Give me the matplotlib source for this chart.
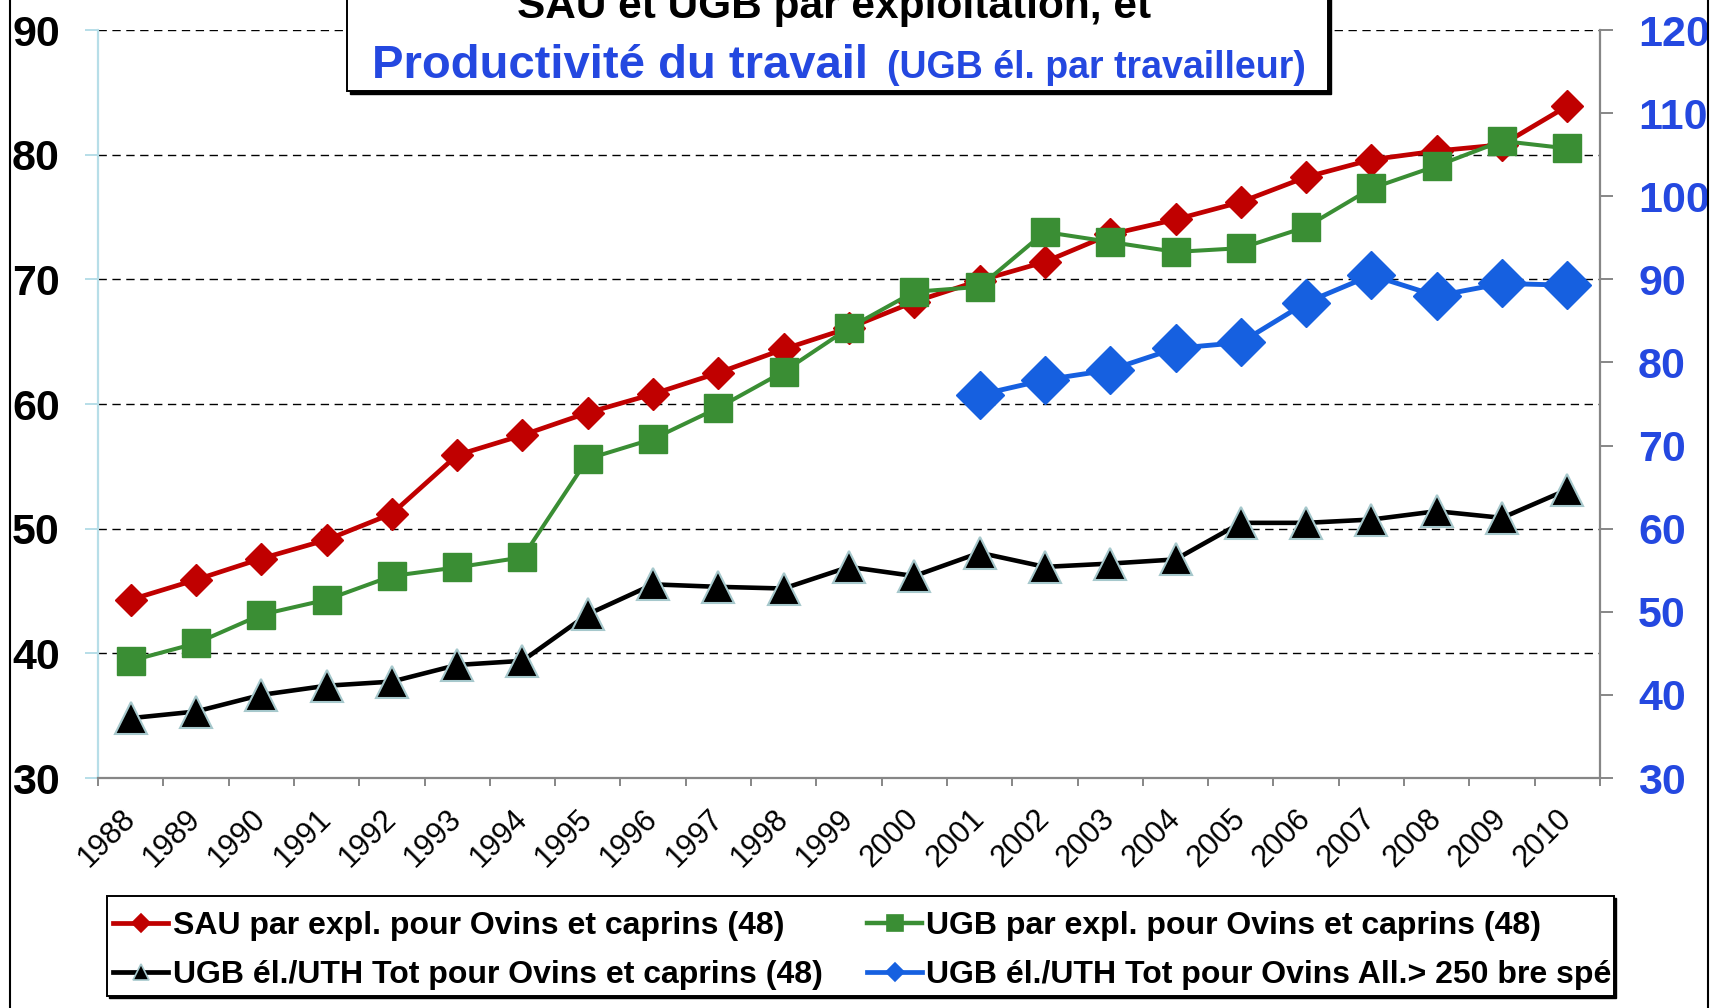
### sheep and goat farms chart
# sau, ugb and labour productivity, 1988-2010
#  this script redraws the excel chart with two y axes

# import plotting libraries
import matplotlib
matplotlib.use('Agg')
import matplotlib.pyplot as plt
import numpy as np
from matplotlib.lines import Line2D
from matplotlib.patches import Rectangle
from matplotlib.transforms import Bbox, TransformedBbox

# define chart values
years = [str(y) for y in range(1988, 2011)]
sau_expl = [44.3, 45.9, 47.6, 49.1, 51.2, 55.9, 57.5, 59.3, 60.8, 62.5, 64.4,
            66.1, 68.2, 69.9, 71.4, 73.6, 74.8, 76.2, 78.2, 79.6, 80.3, 80.8,
            83.9]
ugb_expl = [39.4, 40.8, 43.1, 44.3, 46.2, 46.9, 47.7, 55.6, 57.2, 59.7, 62.6,
            66.1, 69.0, 69.4, 73.8, 73.0, 72.2, 72.5, 74.2, 77.3, 79.1, 81.1,
            80.5]
ugb_uth = [37.2, 38.0, 40.0, 41.1, 41.6, 43.6, 44.1, 49.7, 53.3, 53.0, 52.8,
           55.4, 54.3, 57.1, 55.4, 55.8, 56.3, 60.7, 60.7, 61.1, 62.1, 61.3,
           64.7]
spec_years = years[13:]
ugb_uth_spec = [76.1, 77.9, 79.1, 81.7, 82.4, 87.2, 90.5, 88.0, 89.5, 89.3]

# legend labels
labels = [
    'SAU par expl. pour Ovins et caprins (48)',
    'UGB par expl. pour Ovins et caprins (48)',
    'UGB él./UTH Tot pour Ovins et caprins (48)',
    'UGB él./UTH Tot pour Ovins All.> 250 bre spécialisés (48)'
]

# colours
red, green, blue = '#C00000', '#3A8E34', '#1660E0'
tick_blue, grey, pale = '#2448E0', '#868686', '#B7DEE8'
tri_edge = '#A6C8CC'

plt.rcParams['font.family'] = ['Liberation Sans', 'DejaVu Sans']

# pixel helpers for figure coordinates
W, H = 1712, 1008
fx = lambda px: px / W
fy = lambda py: 1 - py / H

fig = plt.figure(figsize = (W / 100, H / 100), dpi = 100)
ax = fig.add_axes([fx(98), fy(778), fx(1600) - fx(98), fy(30) - fy(778)])
ax2 = ax.twinx()

x = np.arange(len(years))
xs = np.array([years.index(y) for y in spec_years])

### primary axis series
ax.plot(x, sau_expl, color = red, lw = 3.4, marker = 'D', ms = 16.3,
        mec = red, zorder = 3)
ax.plot(x, ugb_expl, color = green, lw = 2.9, marker = 's', ms = 20.5,
        mec = green, zorder = 4)

### secondary axis series
ax2.plot(x, ugb_uth, color = 'black', lw = 3.3, marker = '^', ms = 22.5,
         mfc = 'black', mec = tri_edge, mew = 1.5, zorder = 3)
ax2.plot(xs, ugb_uth_spec, color = blue, lw = 3.5, marker = 'D', ms = 24,
         mec = blue, zorder = 4)

# axis ranges
ax.set_xlim(-0.5, len(years) - 0.5)
ax.set_ylim(30, 90)
ax2.set_ylim(30, 120)
ax.set_yticks(range(30, 91, 10))
ax2.set_yticks(range(30, 121, 10))

# category ticks between years, labels on the years
ax.set_xticks(np.arange(-0.5, len(years)), labels = [''] * (len(years) + 1))
ax.set_xticks(x, labels = years, minor = True)
ax.tick_params(axis = 'x', which = 'major', length = 5.8, width = 1.4,
               color = grey, direction = 'out')
ax.tick_params(axis = 'x', which = 'minor', length = 0, pad = 26,
               labelsize = 22)
for lab in ax.get_xticklabels(minor = True):
    lab.set_rotation(45)
    lab.set_ha('right')
    lab.set_va('center')
    lab.set_rotation_mode('anchor')

# y tick styling
ax.tick_params(axis = 'y', length = 9.4, width = 1.4, color = pale,
               labelsize = 31, pad = 18)
for lab in ax.get_yticklabels():
    lab.set_fontweight('bold')
ax2.tick_params(axis = 'y', length = 9.4, width = 1.4, color = grey,
                labelsize = 31, pad = 18, labelcolor = tick_blue)
for lab in ax2.get_yticklabels():
    lab.set_fontweight('bold')

# gridlines on the primary axis
ax.yaxis.grid(True, color = 'black', lw = 1.0, ls = (0, (6, 4)))
ax.set_axisbelow(True)

# spines
for s in ['top', 'right']:
    ax.spines[s].set_visible(False)
for s in ['top', 'left', 'bottom']:
    ax2.spines[s].set_visible(False)
ax.spines['left'].set_color(pale)
ax.spines['left'].set_linewidth(1.6)
ax.spines['bottom'].set_color(grey)
ax.spines['bottom'].set_linewidth(1.6)
ax2.spines['right'].set_color(grey)
ax2.spines['right'].set_linewidth(1.6)

### outer chart border
fig.add_artist(Rectangle((fx(10), fy(1030)), fx(1708) - fx(10),
                         fy(-20) - fy(1030), transform = fig.transFigure,
                         fill = False, ec = 'black', lw = 1.5))

### title box
fig.add_artist(Rectangle((fx(350), fy(94)), fx(1331) - fx(350),
                         fy(-20) - fy(94), transform = fig.transFigure,
                         fc = 'black', ec = 'black', lw = 1, zorder = 5))
fig.add_artist(Rectangle((fx(347), fy(91)), fx(1328) - fx(347),
                         fy(-20) - fy(91), transform = fig.transFigure,
                         fc = 'white', ec = 'black', lw = 1.4, zorder = 6))
fig.text(fx(834), fy(18), 'SAU et UGB par exploitation, et', ha = 'center',
         va = 'baseline', fontsize = 30.5, fontweight = 'bold', zorder = 7)
fig.text(fx(372), fy(78), 'Productivité du travail', ha = 'left',
         va = 'baseline', fontsize = 34, fontweight = 'bold',
         color = tick_blue, zorder = 7)
fig.text(fx(887), fy(78), '(UGB él. par travailleur)', ha = 'left',
         va = 'baseline', fontsize = 27, fontweight = 'bold',
         color = tick_blue, zorder = 7)

### legend box
lx0, lx1, ly0, ly1 = 107, 1614, 896, 996
fig.add_artist(Rectangle((fx(lx0 + 2), fy(ly1 + 2)), fx(lx1) - fx(lx0),
                         fy(ly0) - fy(ly1), transform = fig.transFigure,
                         fc = 'black', ec = 'black', lw = 1, zorder = 5))
fig.add_artist(Rectangle((fx(lx0), fy(ly1)), fx(lx1) - fx(lx0),
                         fy(ly0) - fy(ly1), transform = fig.transFigure,
                         fc = 'white', ec = 'black', lw = 1.4, zorder = 6))
clip = TransformedBbox(Bbox.from_extents(fx(lx0), fy(ly1), fx(lx1 - 2),
                                         fy(ly0)), fig.transFigure)

# handles: colour, line width, marker, size, face, edge
handles = [
    (red, 3.4, 'D', 9.2, red, red),
    (green, 3.2, 's', 12, green, green),
    ('black', 3.4, '^', 12, 'black', tri_edge),
    (blue, 3.4, 'D', 9.2, blue, blue)
]
cols = [(113, 168, 173), (867, 922, 926)]
rows = [923, 972]
for i, (lab, h) in enumerate(zip(labels, handles)):
    hx0, hx1, tx = cols[i % 2]
    yy = rows[i // 2]
    c, lw, m, ms, fc, ec = h
    fig.add_artist(Line2D([fx(hx0), fx(hx1)], [fy(yy), fy(yy)],
                          transform = fig.transFigure, color = c, lw = lw,
                          zorder = 7))
    fig.add_artist(Line2D([fx((hx0 + hx1) / 2)], [fy(yy)],
                          transform = fig.transFigure, ls = 'none',
                          marker = m, ms = ms, mfc = fc, mec = ec,
                          mew = 1.2, zorder = 8))
    t = fig.text(fx(tx), fy(yy + 11), lab, ha = 'left', va = 'baseline',
                 fontsize = 23, fontweight = 'bold', zorder = 8)
    t.set_clip_box(clip)
    t.set_clip_on(True)

fig.savefig('out.png', dpi = 100)
